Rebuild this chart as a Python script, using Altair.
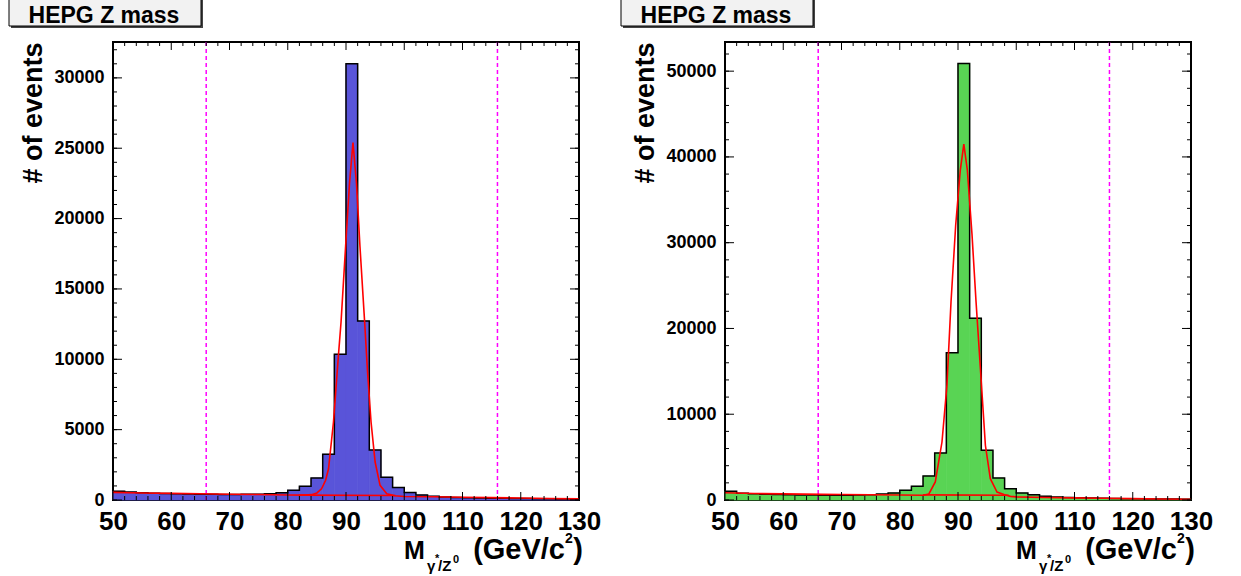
import altair as alt
import pandas as pd

FONT = "Liberation Sans"
W, H = 466, 458

# bin lower edges (2 GeV bins, 50..130)
bin_lo = [50, 52, 54, 56, 58, 60, 62, 64, 66, 68, 70, 72, 74, 76, 78, 80, 82, 84, 86, 88,
          90, 92, 94, 96, 98, 100, 102, 104, 106, 108, 110, 112, 114, 116, 118, 120, 122, 124, 126, 128]

counts_left = [620, 560, 520, 480, 460, 440, 420, 410, 400, 390, 390, 400, 410, 440, 520, 690, 970, 1560, 3250, 10350,
               31000, 12720, 3550, 1610, 880, 530, 350, 270, 210, 180, 160, 140, 130, 120, 110, 100, 90, 80, 75, 70]
counts_right = [1010, 780, 730, 680, 640, 620, 590, 570, 560, 560, 560, 580, 620, 700, 820, 1130, 1600, 2800, 5480, 17170,
                50900, 21200, 5790, 2560, 1320, 815, 620, 430, 350, 300, 260, 230, 200, 180, 160, 140, 130, 120, 110, 100]

fit_left_x = [50, 55, 60, 65, 70, 75, 80, 83, 84.1, 85, 85.8, 86.5, 87.0, 87.85, 88.7, 89.15, 90.0, 90.6, 91.2,
              91.8, 92.4, 93.2, 93.7, 94.3, 95.0, 95.85, 97.0, 98.4, 100, 105, 110, 115, 120, 125, 130]
fit_left_y = [540, 500, 470, 440, 410, 390, 360, 350, 380, 500, 800, 1400, 2220, 5540, 10280, 12650, 18500, 22500, 25400,
              22500, 18000, 12650, 9100, 5540, 2700, 1040, 450, 300, 250, 230, 200, 170, 140, 110, 80]
bkg_left_x = [82, 98.5]
bkg_left_y = [345, 320]

fit_right_x = [50, 55, 60, 66.7, 70, 75, 80, 84, 85, 86.1, 87.25, 88.1, 88.8, 89.6, 90.4, 91.0, 91.6, 92.4, 93.1,
               93.85, 94.7, 95.55, 96.7, 98.0, 99, 100, 105, 110, 115, 120, 125, 130]
fit_right_y = [850, 760, 710, 660, 640, 610, 580, 560, 700, 2100, 6760, 13370, 23080, 32000, 38500, 41500, 38500, 31000, 23080,
               15300, 6380, 2480, 930, 600, 420, 360, 300, 250, 200, 160, 120, 80]
bkg_right_x = [84, 98.7]
bkg_right_y = [600, 550]

window_lines = [66, 116]

x_major = [50, 60, 70, 80, 90, 100, 110, 120, 130]
x_minor = [52, 54, 56, 58, 62, 64, 66, 68, 72, 74, 76, 78, 82, 84, 86, 88, 92, 94, 96, 98,
           102, 104, 106, 108, 112, 114, 116, 118, 122, 124, 126, 128]

left_y_major = [0, 5000, 10000, 15000, 20000, 25000, 30000]
left_y_minor = [v * 1000 for v in range(0, 33)]
right_y_major = [0, 10000, 20000, 30000, 40000, 50000]
right_y_minor = [v * 2000 for v in range(0, 27)]

left_ymax = 32550
right_ymax = 53400

title_text = "HEPG Z mass"
ytitle_text = "# of events"


def panel(counts, fill, ymax, ymaj, ymin, fx, fy, bx, by):
    xs = alt.Scale(domain=[50, 130], nice=False, zero=False)
    ys = alt.Scale(domain=[0, ymax], nice=False, zero=True)
    xax = alt.Axis(
        values=x_major, format="d", title=None, ticks=False, tickSize=0, domain=False, grid=False,
        labelFont=FONT, labelFontSize=26, labelFontWeight="bold", labelColor="black",
        labelPadding=8, labelFlush=False, labelOverlap=False, labelBound=False)
    yax = alt.Axis(
        values=ymaj, format="d", ticks=False, tickSize=0, domain=False, grid=False,
        labelFont=FONT, labelFontSize=18, labelFontWeight="bold", labelColor="black",
        labelPadding=9, labelFlush=False, labelOverlap=False,
        title=ytitle_text, titleFont=FONT, titleFontSize=27, titleFontWeight="bold",
        titleColor="black", titleAngle=270, titleAlign="right", titleBaseline="middle",
        titleX=-80, titleY=0)

    hist = pd.DataFrame({"lo": bin_lo, "hi": [b + 2 for b in bin_lo], "n": counts, "z": [0] * len(counts)})
    outline = pd.DataFrame({"x": bin_lo + [130], "y": counts + [counts[-1]]})

    bars = alt.Chart(hist).mark_rect(color=fill, stroke=fill, strokeWidth=0.7).encode(
        x=alt.X("lo:Q", scale=xs, axis=xax),
        x2="hi:Q",
        y=alt.Y("n:Q", scale=ys, axis=yax),
        y2="z:Q",
    )
    line = alt.Chart(outline).mark_line(interpolate="step-after", color="black", strokeWidth=1.5).encode(
        x=alt.X("x:Q", scale=xs, axis=xax), y=alt.Y("y:Q", scale=ys, axis=yax))
    fit = alt.Chart(pd.DataFrame({"x": fx, "y": fy})).mark_line(color="#ff0000", strokeWidth=1.6).encode(
        x=alt.X("x:Q", scale=xs, axis=xax), y=alt.Y("y:Q", scale=ys, axis=yax))
    bkg = alt.Chart(pd.DataFrame({"x": bx, "y": by})).mark_line(color="#ff0000", strokeWidth=1.6).encode(
        x=alt.X("x:Q", scale=xs, axis=xax), y=alt.Y("y:Q", scale=ys, axis=yax))
    win = alt.Chart(pd.DataFrame({"v": window_lines})).mark_rule(
        color="#ff00ff", strokeWidth=1.5, strokeDash=[4, 3]).encode(
        x=alt.X("v:Q", scale=xs, axis=xax), y=alt.value(0), y2=alt.value(H))

    def xt(vals, length, top):
        return alt.Chart(pd.DataFrame({"v": vals})).mark_rule(color="black", strokeWidth=1).encode(
            x=alt.X("v:Q", scale=xs, axis=xax),
            y=alt.value(0 if top else H), y2=alt.value(length if top else H - length))

    def yt(vals, length, right):
        return alt.Chart(pd.DataFrame({"v": vals})).mark_rule(color="black", strokeWidth=1).encode(
            y=alt.Y("v:Q", scale=ys, axis=yax),
            x=alt.value(W if right else 0), x2=alt.value(W - length if right else length))

    ticks = [xt(x_major, 8, False), xt(x_minor, 4, False), xt(x_major, 8, True), xt(x_minor, 4, True),
             yt(ymaj, 9, False), yt(ymin, 4, False), yt(ymaj, 9, True), yt(ymin, 4, True)]

    dummy = pd.DataFrame({"a": [0]})
    shadow = alt.Chart(dummy).mark_rect(color="#444444").encode(
        x=alt.value(-102), x2=alt.value(90), y=alt.value(-44), y2=alt.value(-14))
    box = alt.Chart(dummy).mark_rect(fill="#f2f2f2", stroke="black", strokeWidth=1).encode(
        x=alt.value(-104), x2=alt.value(88), y=alt.value(-46), y2=alt.value(-16))
    btxt = alt.Chart(dummy).mark_text(font=FONT, fontSize=23, fontWeight="bold", color="black",
                                      align="center", baseline="alphabetic").encode(
        x=alt.value(-9), y=alt.value(-19), text=alt.value(title_text))

    def tx(s, x, y, size, align="left"):
        return alt.Chart(dummy).mark_text(font=FONT, fontSize=size, fontWeight="bold", color="black",
                                          align=align, baseline="alphabetic").encode(
            x=alt.value(x), y=alt.value(y), text=alt.value(s))

    xtitle = [
        tx("M", 291, 517, 25),
        tx("\u03b3", 314, 529, 15),
        tx("*", 322, 520, 11),
        tx("/Z", 325, 529, 15),
        tx("0", 340, 521, 11),
        tx("(GeV/c", 452, 517, 29, "right"),
        tx("2", 452, 501, 14),
        tx(")", 470, 517, 29, "right"),
    ]

    return alt.layer(bars, line, win, bkg, fit, *ticks, shadow, box, btxt, *xtitle).properties(width=W, height=H)


left = panel(counts_left, "#5954d9", left_ymax, left_y_major, left_y_minor,
             fit_left_x, fit_left_y, bkg_left_x, bkg_left_y)
right = panel(counts_right, "#59d454", right_ymax, right_y_major, right_y_minor,
              fit_right_x, fit_right_y, bkg_right_x, bkg_right_y)

chart = alt.hconcat(left, right, spacing=146, bounds="flush").properties(
    padding={"left": 7, "top": -6, "right": 0, "bottom": 0},
    background="white",
).configure_view(stroke="black", strokeWidth=2)

chart.save("out.html", embed_options={"renderer": "svg", "actions": False})
